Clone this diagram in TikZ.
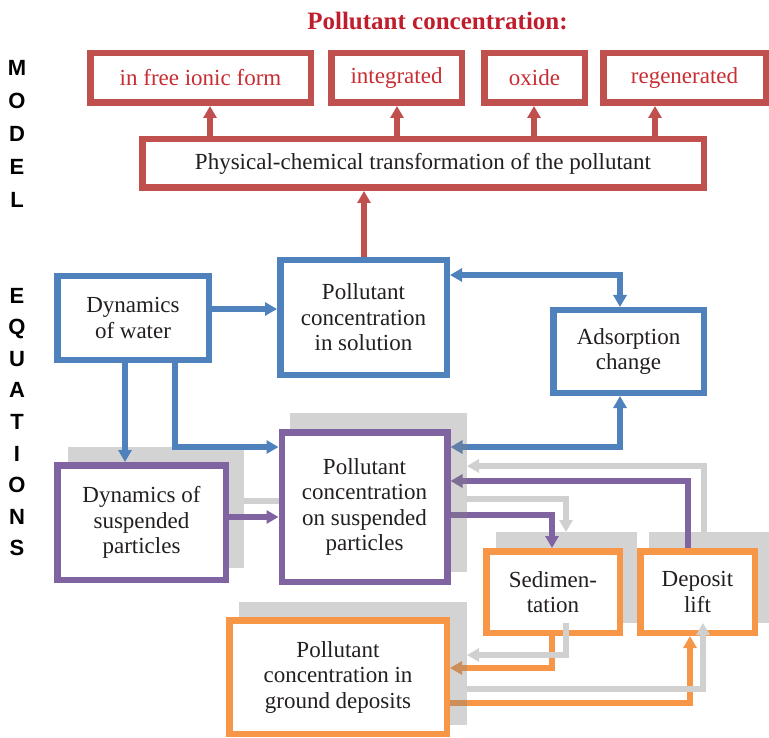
\documentclass[tikz,border=0pt]{standalone}
\usepackage{fontspec}
\setmainfont{Liberation Serif}
\newfontfamily\labelsans{Liberation Sans}
\usetikzlibrary{arrows.meta}
\pgfdeclarelayer{shade}
\pgfdeclarelayer{links}
\pgfdeclarelayer{veil}
\pgfsetlayers{shade,links,veil,main}

\definecolor{cred}{RGB}{192,80,77}
\definecolor{ctitle}{RGB}{190,30,45}
\definecolor{credtext}{RGB}{200,45,50}
\definecolor{cblue}{RGB}{79,129,189}
\definecolor{cpurple}{RGB}{128,100,162}
\definecolor{corange}{RGB}{247,150,70}
\definecolor{cshade}{RGB}{211,211,211}
\definecolor{cghost}{RGB}{208,208,208}
\definecolor{ctext}{RGB}{35,31,32}

\begin{document}
\begin{tikzpicture}[x=1pt,y=-1pt,
  box/.style={draw, line width=6.5pt, fill=white, inner sep=0pt, align=center,
    text=ctext, font=\fontsize{23}{25.5}\selectfont},
  redbox/.style={box, draw=cred},
  bluebox/.style={box, draw=cblue},
  purplebox/.style={box, draw=cpurple},
  orangebox/.style={box, draw=corange},
  shadowbox/.style={fill=cshade, inner sep=0pt, outer sep=0pt},
  veilbox/.style={fill=gray, fill opacity=0.35, inner sep=0pt, outer sep=0pt},
  link/.style={line width=6pt, -{Triangle[length=12pt,width=13pt]}},
  twoway/.style={line width=6pt, {Triangle[length=12pt,width=13pt]}-{Triangle[length=12pt,width=13pt]}},
  ghost/.style={link, cghost},
  vlabel/.style={align=center, inner sep=0pt, font=\labelsans\bfseries\fontsize{22}{33.2}\selectfont},
]
\useasboundingbox (0,0) rectangle (769,738);

% headings
\node[text=ctitle, font=\bfseries\fontsize{25}{28}\selectfont, inner sep=0pt] (title) at (437.5,21) {Pollutant concentration:};
\node[vlabel] (model) at (17,134) {M\\O\\D\\E\\L};
\node[vlabel, font=\labelsans\bfseries\fontsize{22}{31.6}\selectfont] (equations) at (17,422) {E\\Q\\U\\A\\T\\I\\O\\N\\S};

% pollutant forms
\node[redbox, text=credtext, minimum width=220.5pt, minimum height=49.5pt] (ion) at (200.5,78) {in free ionic form};
\node[redbox, text=credtext, minimum width=130.5pt, minimum height=49.5pt] (integ) at (396.5,78) {integrated};
\node[redbox, text=credtext, minimum width=100.5pt, minimum height=49.5pt] (oxide) at (534.5,78) {oxide};
\node[redbox, text=credtext, minimum width=162.5pt, minimum height=49.5pt] (regen) at (684.5,78) {regenerated};
\node[redbox, minimum width=561.5pt, minimum height=48.5pt] (phys) at (423,163.5) {Physical-chemical transformation of the pollutant};

% water phase
\node[bluebox, minimum width=151.5pt, minimum height=83.5pt] (water) at (133,318) {Dynamics\\of water};
\node[bluebox, minimum width=166.5pt, minimum height=114.5pt] (sol) at (363.5,317.5) {Pollutant\\concentration\\in solution};
\node[bluebox, minimum width=150.5pt, minimum height=82.5pt] (ads) at (628.5,351.5) {Adsorption\\change};

% suspended particles
\node[purplebox, minimum width=168.5pt, minimum height=114.5pt] (dsp) at (141.5,522.5) {Dynamics of\\suspended\\particles};
\node[purplebox, minimum width=165.5pt, minimum height=149.5pt] (spc) at (364.5,507) {Pollutant\\concentration\\on suspended\\particles};

% deposits
\node[orangebox, minimum width=133.5pt, minimum height=81.5pt] (sed) at (553,592) {Sedimen-\\tation};
\node[orangebox, minimum width=114.5pt, minimum height=81.5pt] (dep) at (697.5,592) {Deposit\\lift};
\node[orangebox, minimum width=217.5pt, minimum height=113.5pt] (gnd) at (338,677) {Pollutant\\concentration in\\ground deposits};

% flat shadows behind boxes
\begin{pgfonlayer}{shade}
\node[shadowbox, minimum width=176pt, minimum height=121pt] (dspS) at (156,507.5) {};
\node[shadowbox, minimum width=141pt, minimum height=91pt] (sedS) at (566.5,577.5) {};
\node[shadowbox, minimum width=122pt, minimum height=91pt] (depS) at (710,577.5) {};
\end{pgfonlayer}

% translucent shadows laid over the arrow ends
\begin{pgfonlayer}{veil}
\node[veilbox, minimum width=177pt, minimum height=159pt] (spcS) at (378.5,492.5) {};
\node[veilbox, minimum width=228pt, minimum height=123pt] (gndS) at (353,663.5) {};
\end{pgfonlayer}

\begin{pgfonlayer}{links}
% transformation outputs
\draw[link, cred] (phys.north -| 210,0) -- (ion.south -| 210,0);
\draw[link, cred] (phys.north -| 397,0) -- (integ.south -| 397,0);
\draw[link, cred] (phys.north -| 534,0) -- (oxide.south -| 534,0);
\draw[link, cred] (phys.north -| 655,0) -- (regen.south -| 655,0);
\draw[link, cred] (sol.north -| 364,0) -- (phys.south -| 364,0);
% water links
\draw[link, cblue] (water.east |- 0,309) -- (sol.west |- 0,309);
\draw[twoway, cblue] (sol.east |- 0,275) -| (ads.north -| 620,0);
\draw[link, cblue] (water.south -| 125,0) -- (dsp.north -| 125,0);
\draw[link, cblue] (water.south -| 175,0) |- (spc.west |- 0,447);
\draw[twoway, cblue] (ads.south -| 620,0) |- (spc.east |- 0,447);
% particle links
\draw[link, cpurple] (dsp.east |- 0,517) -- (spc.west |- 0,517);
\draw[link, cpurple] (spc.east |- 0,515) -| (sed.north -| 552,0);
\draw[link, cpurple] (dep.north -| 688,0) |- (spc.east |- 0,481);
% deposit links
\draw[link, corange] (sed.south -| 552,0) |- (gnd.east |- 0,668);
\draw[link, corange] (gnd.east |- 0,703) -| (dep.south -| 690,0);
\end{pgfonlayer}

% shadow links
\draw[line width=6pt, cghost] (dspS.east |- 0,501) -- (spc.west |- 0,501);
\draw[ghost] (depS.north -| 704,0) |- (spcS.east |- 0,466);
\draw[ghost] (spcS.east |- 0,499) -| (sedS.north -| 566,0);
\draw[ghost] (sedS.south -| 566,0) |- (gndS.east |- 0,655);
\draw[ghost] (gndS.east |- 0,689) -| (depS.south -| 703,0);
\end{tikzpicture}
\end{document}
